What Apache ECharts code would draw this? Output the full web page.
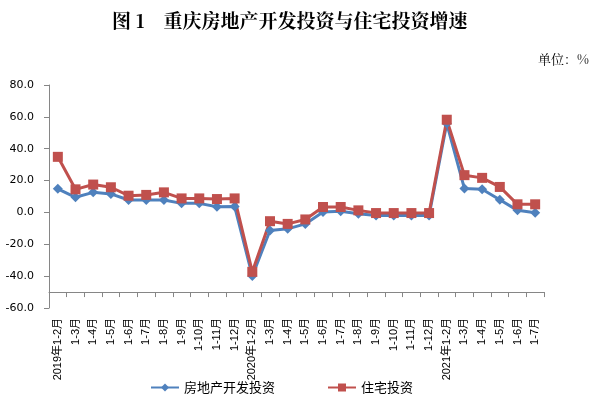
<!DOCTYPE html>
<html>
<head>
<meta charset="utf-8">
<script src="https://cdn.jsdelivr.net/npm/echarts@6/dist/echarts.min.js"></script>
<style>
  html, body { margin: 0; padding: 0; background: #fff; }
  #chart { width: 604px; height: 398px; }
</style>
</head>
<body>
<div id="chart"></div>
<script>
// 月份（累计）
const months = [
  '2019年1-2月', '1-3月', '1-4月', '1-5月', '1-6月', '1-7月', '1-8月', '1-9月', '1-10月', '1-11月', '1-12月',
  '2020年1-2月', '1-3月', '1-4月', '1-5月', '1-6月', '1-7月', '1-8月', '1-9月', '1-10月', '1-11月', '1-12月',
  '2021年1-2月', '1-3月', '1-4月', '1-5月', '1-6月', '1-7月'
];

// 房地产开发投资增速 (%)
const devInvest = [
  14.8, 9.5, 12.6, 11.6, 7.8, 7.8, 7.8, 5.7, 5.7, 3.6, 3.8,
  -39.9, -11.3, -10.3, -7.2, 0.2, 0.8, -0.8, -1.9, -1.9, -1.9, -1.9,
  55.8, 15.0, 14.6, 8.0, 1.3, -0.2
];

// 住宅投资增速 (%)
const houseInvest = [
  34.9, 14.5, 17.5, 15.8, 10.5, 11.0, 12.6, 8.8, 8.8, 8.4, 8.8,
  -37.3, -5.5, -7.2, -4.4, 3.4, 3.4, 1.3, -0.4, -0.4, -0.4, -0.4,
  58.2, 23.4, 21.7, 16.0, 5.1, 5.1
];

const chart = echarts.init(document.getElementById('chart'));

const option = {
  animation: false,
  backgroundColor: '#fff',
  title: [
    {
      text: '图 1　重庆房地产开发投资与住宅投资增速',
      left: 107,
      top: 6,
      textStyle: {
        fontFamily: "'Noto Serif CJK SC', 'Noto Sans CJK SC', serif",
        fontSize: 19,
        fontWeight: 'bold',
        color: '#000'
      }
    },
    {
      text: '单位：%',
      right: 10,
      top: 48,
      textStyle: {
        fontFamily: "'Noto Serif CJK SC', 'Noto Sans CJK SC', serif",
        fontSize: 13,
        fontWeight: 'normal',
        color: '#000'
      }
    }
  ],
  legend: {
    bottom: 4,
    left: 150,
    padding: 0,
    itemWidth: 28,
    itemHeight: 10,
    itemGap: 52,
    textStyle: {
      fontFamily: "'Noto Sans CJK SC', sans-serif",
      fontSize: 13,
      color: '#000'
    },
    data: ['房地产开发投资', '住宅投资']
  },
  grid: {
    left: 49,
    right: 60,
    top: 85,
    bottom: 90
  },
  xAxis: {
    type: 'category',
    data: months,
    boundaryGap: true,
    axisLine: {
      onZero: true,
      onZeroAxisIndex: 1,
      lineStyle: { color: '#868686', width: 1 }
    },
    axisTick: {
      show: true,
      length: 5,
      lineStyle: { color: '#868686' }
    },
    axisLabel: {
      rotate: 90,
      interval: 0,
      margin: 10,
      fontFamily: "'Liberation Sans', 'Noto Sans CJK SC', sans-serif",
      fontSize: 11,
      color: '#000'
    },
    splitLine: { show: false }
  },
  yAxis: [
    {
      type: 'value',
      min: -60,
      max: 80,
      interval: 20,
      axisLine: {
        show: true,
        lineStyle: { color: '#868686', width: 1 }
      },
      axisTick: {
        show: true,
        length: 5,
        lineStyle: { color: '#868686' }
      },
      axisLabel: {
        margin: 15,
        fontFamily: "'DejaVu Sans', sans-serif",
        fontSize: 11,
        color: '#000',
        formatter: function (v) { return v.toFixed(1); }
      },
      splitLine: { show: false }
    },
    {
      // 仅用于把横轴放在 -50 附近的位置
      type: 'value',
      min: -10,
      max: 130,
      show: false,
      splitLine: { show: false }
    }
  ],
  series: [
    {
      name: '房地产开发投资',
      type: 'line',
      data: devInvest,
      yAxisIndex: 0,
      symbol: 'diamond',
      symbolSize: 10,
      lineStyle: { color: '#4F81BD', width: 3 },
      itemStyle: { color: '#4F81BD' }
    },
    {
      name: '住宅投资',
      type: 'line',
      data: houseInvest,
      yAxisIndex: 0,
      symbol: 'rect',
      symbolSize: 10,
      lineStyle: { color: '#C0504D', width: 3 },
      itemStyle: { color: '#C0504D' }
    }
  ]
};

chart.setOption(option);
</script>
</body>
</html>
